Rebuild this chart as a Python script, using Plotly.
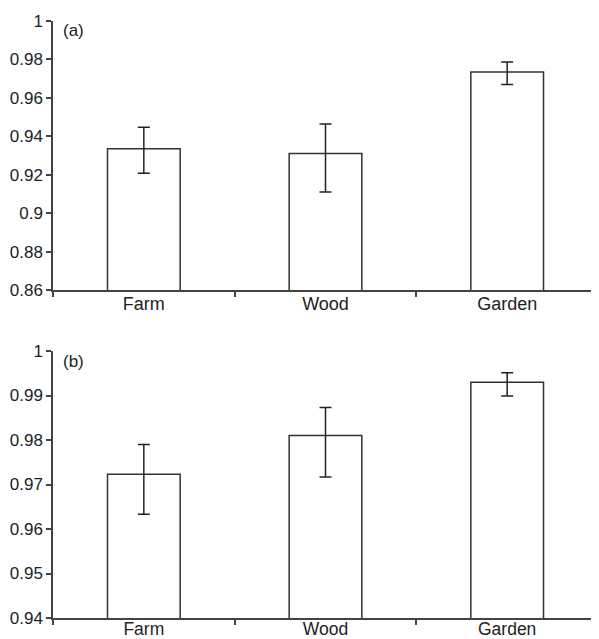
import plotly.graph_objects as go

categories = ["Farm", "Wood", "Garden"]

# Panel (a)
a_values = [0.9335, 0.931, 0.9735]
a_err_plus = [0.0112, 0.0154, 0.0052]
a_err_minus = [0.0128, 0.0200, 0.0066]
a_tickvals = [0.86, 0.88, 0.90, 0.92, 0.94, 0.96, 0.98, 1.0]
a_ticktext = ["0.86", "0.88", "0.9", "0.92", "0.94", "0.96", "0.98", "1"]

# Panel (b)
b_values = [0.9723, 0.981, 0.993]
b_err_plus = [0.0067, 0.0063, 0.0021]
b_err_minus = [0.0090, 0.0093, 0.0031]
b_tickvals = [0.94, 0.95, 0.96, 0.97, 0.98, 0.99, 1.0]
b_ticktext = ["0.94", "0.95", "0.96", "0.97", "0.98", "0.99", "1"]

FONT = "Liberation Sans, Arial, sans-serif"
TXT = "#222222"
LINE = "#444444"

def bar(vals, plus, minus, xa, ya):
    return go.Bar(
        x=categories, y=vals, xaxis=xa, yaxis=ya, width=0.4,
        marker=dict(color="white", line=dict(color="#333333", width=1.5)),
        error_y=dict(type="data", symmetric=False, array=plus, arrayminus=minus,
                     color="#222222", thickness=1.5, width=6),
        showlegend=False,
    )

fig = go.Figure()
fig.add_trace(bar(a_values, a_err_plus, a_err_minus, "x", "y"))
fig.add_trace(bar(b_values, b_err_plus, b_err_minus, "x2", "y2"))

xcommon = dict(type="category", range=[-0.5, 2.5], showline=True, linecolor=LINE, linewidth=1.5,
               ticks="outside", tickson="boundaries", ticklen=5, tickcolor=LINE, tickwidth=1.5,
               showgrid=False, zeroline=False, automargin=False)
ycommon = dict(showline=True, linecolor=LINE, linewidth=1.5, ticks="outside", ticklen=5,
               tickcolor=LINE, tickwidth=1.5, showgrid=False, zeroline=False, automargin=False,
               tickfont=dict(family=FONT, size=17, color=TXT))

# page body has an 8px margin; the figure is sized/offset to compensate
fig.update_layout(
    width=591, height=631,
    margin=dict(l=45, r=1, t=13, b=21),
    paper_bgcolor="white", plot_bgcolor="white",
    xaxis=dict(domain=[0, 1], anchor="y", ticklabelstandoff=-3,
               tickfont=dict(family=FONT, size=18, color=TXT), **xcommon),
    yaxis=dict(domain=[0.5494, 1], anchor="x", range=[0.86, 1.0],
               tickvals=a_tickvals, ticktext=a_ticktext, **ycommon),
    xaxis2=dict(domain=[0, 1], anchor="y2", ticklabelstandoff=-6,
                tickfont=dict(family=FONT, size=17.5, color=TXT), **xcommon),
    yaxis2=dict(domain=[0, 0.4472], anchor="x2", range=[0.94, 1.0],
                tickvals=b_tickvals, ticktext=b_ticktext, **ycommon),
    annotations=[
        dict(text="(a)", xref="x domain", yref="y domain", x=0.015, y=0.965,
             xanchor="left", yanchor="middle", showarrow=False,
             font=dict(family=FONT, size=17, color=TXT)),
        dict(text="(b)", xref="x2 domain", yref="y2 domain", x=0.015, y=0.96,
             xanchor="left", yanchor="middle", showarrow=False,
             font=dict(family=FONT, size=17, color=TXT)),
    ],
)

fig.write_html("out.html")
